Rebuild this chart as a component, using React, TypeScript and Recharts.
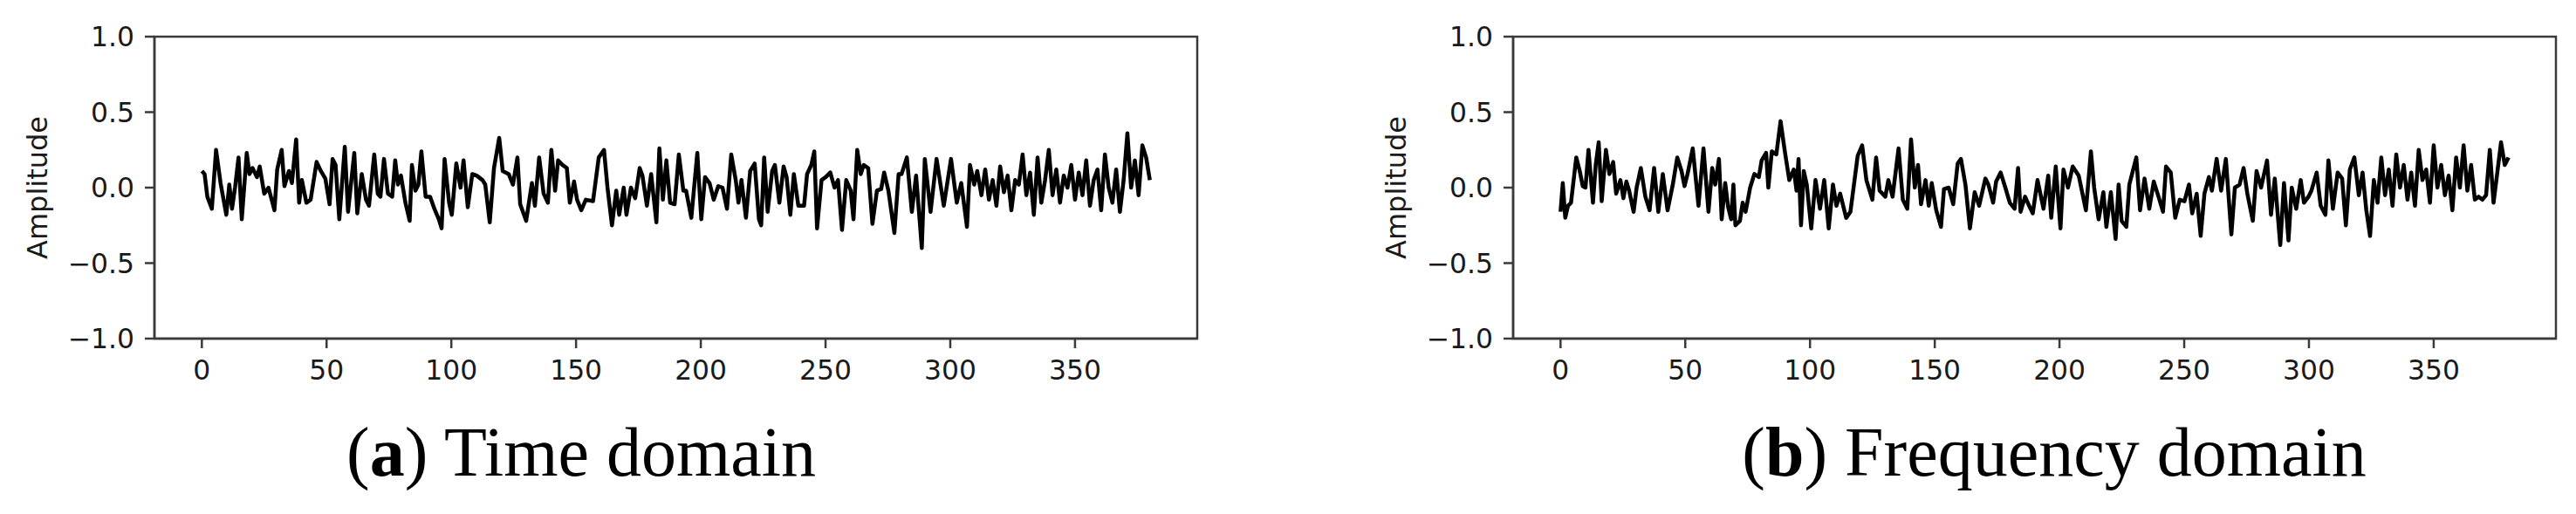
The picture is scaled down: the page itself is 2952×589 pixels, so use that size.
import React from 'react';
import { LineChart, Line, XAxis, YAxis, ReferenceArea } from 'recharts';

const xTicks = [0, 50, 100, 150, 200, 250, 300, 350];
const yTicks = [-1, -0.5, 0, 0.5, 1];
const xDomain: [number, number] = [-19, 399];
const yDomain: [number, number] = [-1, 1];

const timeIdx = [
  0, 1.1, 2.2, 4.0, 5.7, 7.5, 9.8, 11.0, 12.1, 13.3, 14.7, 16.0, 18.0, 19.1, 20.3, 22.1, 23.2, 25.0, 26.7, 29.1,
  30.2, 32.0, 33.1, 34.9, 36.1, 37.8, 39.0, 40.1, 41.9, 43.6, 46.0, 47.7, 49.5, 51.2, 52.4, 53.6, 55.1, 57.3, 58.6, 61.1,
  62.3, 64.1, 65.8, 67.0, 69.1, 70.5, 71.6, 73.0, 74.6, 76.3, 77.5, 78.6, 79.8, 81.6, 83.3, 84.2, 85.6, 86.8, 88.0, 89.7,
  91.5, 93.2, 95.0, 96.1, 97.3, 99.1, 100.2, 102.0, 103.7, 104.9, 106.6, 108.4, 110.1, 112.5, 113.6, 115.4, 117.1, 119.2, 120.6, 123.0,
  124.7, 126.5, 127.6, 130.0, 131.1, 132.3, 133.5, 135.2, 137.0, 138.7, 140.1, 141.6, 142.8, 144.6, 146.3, 147.5, 149.2, 150.4, 152.1, 153.9,
  156.8, 159.1, 161.2, 162.6, 164.4, 166.1, 167.3, 169.1, 170.2, 172.0, 173.7, 175.5, 176.6, 178.4, 180.1, 182.2, 183.4, 184.8, 186.2, 187.7,
  189.5, 191.2, 193.0, 194.1, 196.2, 198.6, 200.2, 201.7, 203.5, 205.2, 207.0, 208.7, 210.5, 212.2, 214.0, 215.1, 216.3, 218.1, 219.8, 221.6,
  223.3, 224.2, 225.4, 226.8, 228.6, 229.7, 231.5, 233.2, 234.4, 235.9, 237.3, 239.1, 241.4, 242.6, 244.3, 245.5, 246.6, 248.4, 250.1, 251.9,
  253.6, 255.0, 256.6, 258.3, 260.1, 261.2, 262.7, 264.1, 265.3, 267.1, 268.8, 270.6, 272.3, 273.5, 275.2, 277.6, 279.3, 280.5, 282.6, 284.6,
  286.3, 288.6, 289.8, 292.1, 294.5, 297.4, 300.3, 302.6, 304.4, 306.7, 307.9, 309.6, 310.8, 312.5, 314.0, 315.5, 317.0, 318.5, 320.0, 321.5,
  323.0, 324.5, 326.0, 327.5, 329.0, 330.5, 332.0, 333.5, 335.0, 336.5, 338.0, 339.5, 341.0, 342.5, 344.0, 345.5, 347.0, 348.5, 350.0, 351.5,
  353.0, 354.5, 356.0, 357.5, 359.0, 360.5, 362.0, 363.5, 365.0, 366.5, 368.0, 369.5, 371.0, 372.5, 374.0, 375.5, 377.0, 378.5, 380.0,
];
const timeAmp = [
  0.11, 0.09, -0.06, -0.14, 0.25, 0.03, -0.18, 0.02, -0.14, 0.0, 0.2, -0.21, 0.23, 0.09, 0.13, 0.07, 0.14, -0.04, 0.0, -0.15,
  0.12, 0.25, 0.01, 0.11, 0.03, 0.32, -0.1, 0.05, -0.1, -0.08, 0.17, 0.11, 0.06, -0.11, 0.19, 0.15, -0.21, 0.27, -0.16, 0.23,
  -0.17, 0.09, -0.08, -0.12, 0.22, -0.04, -0.06, 0.19, -0.04, -0.06, 0.18, 0.02, 0.08, -0.1, -0.22, 0.15, -0.02, 0.02, 0.24, -0.06,
  -0.06, -0.14, -0.21, -0.27, 0.19, -0.1, -0.18, 0.16, 0.0, 0.18, -0.13, 0.09, 0.08, 0.05, 0.02, -0.23, 0.13, 0.33, 0.11, 0.09,
  0.02, 0.2, -0.11, -0.22, -0.1, 0.03, -0.12, 0.2, -0.04, -0.1, 0.25, -0.02, 0.18, 0.15, 0.13, -0.1, 0.04, -0.08, -0.15, -0.08,
  -0.09, 0.2, 0.25, 0.0, -0.25, -0.02, -0.18, 0.0, -0.18, 0.0, -0.07, 0.13, 0.08, -0.12, 0.09, -0.23, 0.26, -0.08, 0.18, -0.1,
  -0.11, 0.22, -0.02, -0.02, -0.2, 0.23, -0.21, 0.07, 0.03, -0.08, 0.01, 0.0, -0.14, 0.22, 0.05, -0.1, 0.05, -0.2, 0.11, 0.16,
  -0.21, -0.25, 0.2, -0.16, 0.11, 0.15, -0.1, 0.14, 0.07, -0.18, 0.09, -0.12, -0.12, 0.09, 0.15, 0.24, -0.27, 0.05, 0.07, 0.1,
  0.0, 0.05, -0.28, 0.05, -0.02, -0.21, 0.25, 0.09, 0.15, 0.13, -0.24, -0.02, -0.01, 0.1, -0.02, -0.3, 0.09, 0.09, 0.2, -0.16,
  0.08, -0.4, 0.19, -0.16, 0.19, -0.12, 0.19, -0.1, 0.03, -0.26, 0.15, 0.02, 0.11, -0.05, 0.12, -0.08, 0.05, -0.12, 0.14, -0.03,
  0.08, -0.15, 0.05, 0.02, 0.22, -0.05, 0.1, -0.18, 0.2, -0.1, 0.05, 0.25, -0.05, 0.12, -0.1, 0.08, 0.0, 0.15, -0.08, 0.1,
  -0.05, 0.18, -0.12, 0.05, 0.12, -0.15, 0.22, 0.0, -0.1, 0.12, -0.16, 0.05, 0.36, 0.0, 0.18, -0.05, 0.28, 0.2, 0.05,
];

const freqIdx = [
  0, 0.9, 1.9, 3.0, 4.2, 6.3, 7.7, 8.9, 10.0, 11.2, 13.0, 14.1, 15.3, 16.5, 18.2, 19.6, 21.1, 22.3, 24.0, 25.2,
  26.4, 27.5, 29.3, 30.5, 32.2, 34.0, 35.7, 37.5, 39.2, 41.0, 42.9, 45.0, 46.8, 48.5, 49.7, 50.9, 53.0, 55.3, 57.3, 59.3,
  60.8, 62.0, 63.5, 64.6, 66.0, 67.2, 68.4, 69.3, 70.1, 71.9, 73.0, 74.2, 76.0, 77.7, 79.5, 80.6, 82.4, 83.3, 84.7, 86.5,
  88.2, 90.0, 91.7, 93.5, 94.6, 95.4, 96.4, 97.5, 98.7, 100.5, 102.2, 104.0, 105.7, 107.5, 109.2, 110.6, 112.1, 114.5, 116.2, 119.1,
  120.9, 122.6, 125.0, 126.5, 127.9, 130.2, 131.4, 133.1, 135.5, 137.2, 139.0, 140.5, 142.0, 143.3, 144.5, 146.3, 147.6, 148.8, 150.6, 152.5,
  153.7, 155.6, 157.4, 159.2, 160.5, 162.3, 164.1, 166.0, 167.8, 170.3, 171.5, 173.4, 174.6, 176.4, 178.3, 180.1, 182.0, 183.4, 184.4, 186.2,
  188.1, 189.3, 191.2, 193.6, 195.5, 196.7, 198.5, 200.4, 201.6, 203.4, 205.3, 207.7, 210.6, 212.6, 213.9, 215.7, 217.6, 218.8, 220.6, 222.5,
  223.7, 224.9, 226.8, 228.0, 230.8, 232.3, 234.1, 236.0, 237.8, 239.7, 241.5, 242.7, 244.6, 246.4, 248.2, 250.1, 251.9, 253.2, 255.0, 256.6,
  258.1, 259.9, 261.1, 263.0, 264.8, 266.7, 268.9, 270.3, 272.2, 273.8, 275.3, 277.5, 279.0, 280.8, 283.2, 284.8, 286.3, 288.5, 290.0, 291.8,
  293.1, 294.9, 296.7, 298.0, 299.8, 301.0, 303.1, 304.7, 306.6, 307.8, 309.6, 311.5, 313.3, 314.8, 316.4, 318.2, 320.0, 321.5, 323.0, 324.5,
  326.0, 327.5, 329.0, 330.5, 332.0, 333.5, 335.0, 336.5, 338.0, 339.5, 341.0, 342.5, 344.0, 345.5, 347.0, 348.5, 350.0, 351.5, 353.0, 354.5,
  356.0, 357.5, 359.0, 360.5, 362.0, 363.5, 365.0, 366.5, 368.0, 369.5, 371.0, 372.5, 374.0, 375.5, 377.0, 378.5, 380.0,
];
const freqAmp = [
  -0.16, 0.03, -0.2, -0.12, -0.1, 0.2, 0.11, 0.01, 0.0, 0.25, -0.1, 0.15, 0.3, -0.09, 0.25, 0.09, 0.17, -0.04, 0.05, -0.07,
  0.04, -0.02, -0.16, 0.0, 0.13, -0.06, -0.15, 0.13, -0.16, 0.09, -0.15, 0.02, 0.2, 0.11, 0.01, 0.09, 0.26, -0.12, 0.26, -0.16,
  0.13, 0.02, 0.19, -0.21, 0.03, -0.13, -0.21, 0.02, -0.25, -0.22, -0.1, -0.16, 0.0, 0.09, 0.07, 0.18, 0.23, 0.0, 0.24, 0.22,
  0.44, 0.23, 0.05, 0.12, -0.02, 0.19, -0.25, 0.11, 0.02, -0.27, 0.05, -0.14, 0.05, -0.27, 0.02, -0.12, -0.04, -0.2, -0.16, 0.21,
  0.28, 0.05, -0.08, 0.2, -0.02, -0.06, 0.05, -0.06, 0.26, -0.08, -0.14, 0.32, 0.0, 0.15, -0.11, 0.05, -0.12, 0.03, -0.15, -0.26,
  -0.01, 0.0, -0.11, 0.16, 0.19, 0.02, -0.27, -0.03, -0.12, 0.06, 0.02, -0.1, 0.04, 0.1, 0.0, -0.1, -0.14, 0.13, -0.16, -0.06,
  -0.13, -0.17, 0.05, -0.14, 0.08, -0.2, 0.14, -0.27, 0.12, 0.0, 0.14, 0.08, -0.15, 0.24, 0.0, -0.21, -0.03, -0.26, -0.03, -0.34,
  0.02, -0.22, -0.26, 0.02, 0.2, -0.15, 0.06, -0.14, 0.04, -0.06, -0.16, 0.14, 0.1, -0.2, -0.08, -0.09, 0.02, -0.17, -0.04, -0.32,
  -0.04, 0.07, -0.02, 0.19, -0.02, 0.19, -0.31, 0.0, 0.02, 0.13, -0.04, -0.22, 0.11, 0.0, 0.18, -0.18, 0.06, -0.38, 0.03, -0.35,
  0.0, -0.14, 0.05, -0.1, -0.06, -0.02, 0.1, -0.12, -0.18, 0.18, -0.14, 0.1, 0.06, -0.25, 0.12, 0.2, -0.05, 0.1, -0.15, -0.32,
  0.05, -0.1, 0.2, -0.05, 0.12, -0.12, 0.22, 0.0, 0.15, -0.08, 0.1, -0.12, 0.25, 0.05, 0.12, -0.1, 0.28, 0.0, 0.15, -0.05,
  0.08, -0.15, 0.2, 0.0, 0.28, -0.02, 0.15, -0.08, -0.06, -0.08, -0.05, 0.25, -0.1, 0.1, 0.3, 0.15, 0.2,
];

const fmtY = (v: number) => (v < 0 ? '\u2212' : '') + Math.abs(v).toFixed(1);

const AXIS = '#3a3a3a';
const TICK_FONT = { fill: '#1a1a1a', fontSize: 31.4, fontFamily: 'DejaVu Sans' };

function Panel({ idx, amp, left, caption, letter, capCenter }: { idx: number[]; amp: number[]; left: number; caption: string; letter: string; capCenter: number }) {
  const data = idx.map((x, i) => ({ x, y: amp[i] }));
  return (
    <>
      <div style={{ position: 'absolute', left, top: 0 }}>
        <LineChart width={1400} height={470} data={data} margin={{ top: 42, right: 28, bottom: 0, left: 0 }}>
          <XAxis
            dataKey="x"
            type="number"
            domain={xDomain}
            ticks={xTicks}
            allowDataOverflow
            interval={0}
            height={82}
            tickSize={11}
            tickMargin={14}
            stroke={AXIS}
            strokeWidth={2.5}
            tick={TICK_FONT}
          />
          <YAxis
            type="number"
            domain={yDomain}
            ticks={yTicks}
            allowDataOverflow
            interval={0}
            width={177}
            tickSize={11}
            tickMargin={12}
            tickFormatter={fmtY}
            stroke={AXIS}
            strokeWidth={2.5}
            tick={TICK_FONT}
          />
          <ReferenceArea x1={-19} x2={399} y1={-1} y2={1} fill="none" fillOpacity={0} stroke={AXIS} strokeWidth={2.5} />
          <Line type="linear" dataKey="y" stroke="#000" strokeWidth={4.5} strokeLinejoin="round" dot={false} isAnimationActive={false} />
        </LineChart>
      </div>
      <div
        style={{
          position: 'absolute',
          left: left + 43,
          top: 215,
          transform: 'translate(-50%, -50%) rotate(-90deg)',
          fontFamily: 'DejaVu Sans',
          fontSize: 32,
          lineHeight: 1,
          color: '#1a1a1a',
          whiteSpace: 'nowrap',
        }}
      >
        Amplitude
      </div>
      <div
        style={{
          position: 'absolute',
          left: capCenter,
          top: 478,
          transform: 'translateX(-50%)',
          fontFamily: 'Liberation Serif',
          fontSize: 80,
          lineHeight: 1,
          color: '#000',
          whiteSpace: 'nowrap',
        }}
      >
        (<b>{letter}</b>) {caption}
      </div>
    </>
  );
}

export default function App() {
  return (
    <div style={{ position: 'absolute', left: 0, top: 0, width: 2952, height: 589, background: '#fff', overflow: 'hidden' }}>
      <Panel idx={timeIdx} amp={timeAmp} left={0} caption="Time domain" letter="a" capCenter={666} />
      <Panel idx={freqIdx} amp={freqAmp} left={1557} caption="Frequency domain" letter="b" capCenter={2354} />
    </div>
  );
}
